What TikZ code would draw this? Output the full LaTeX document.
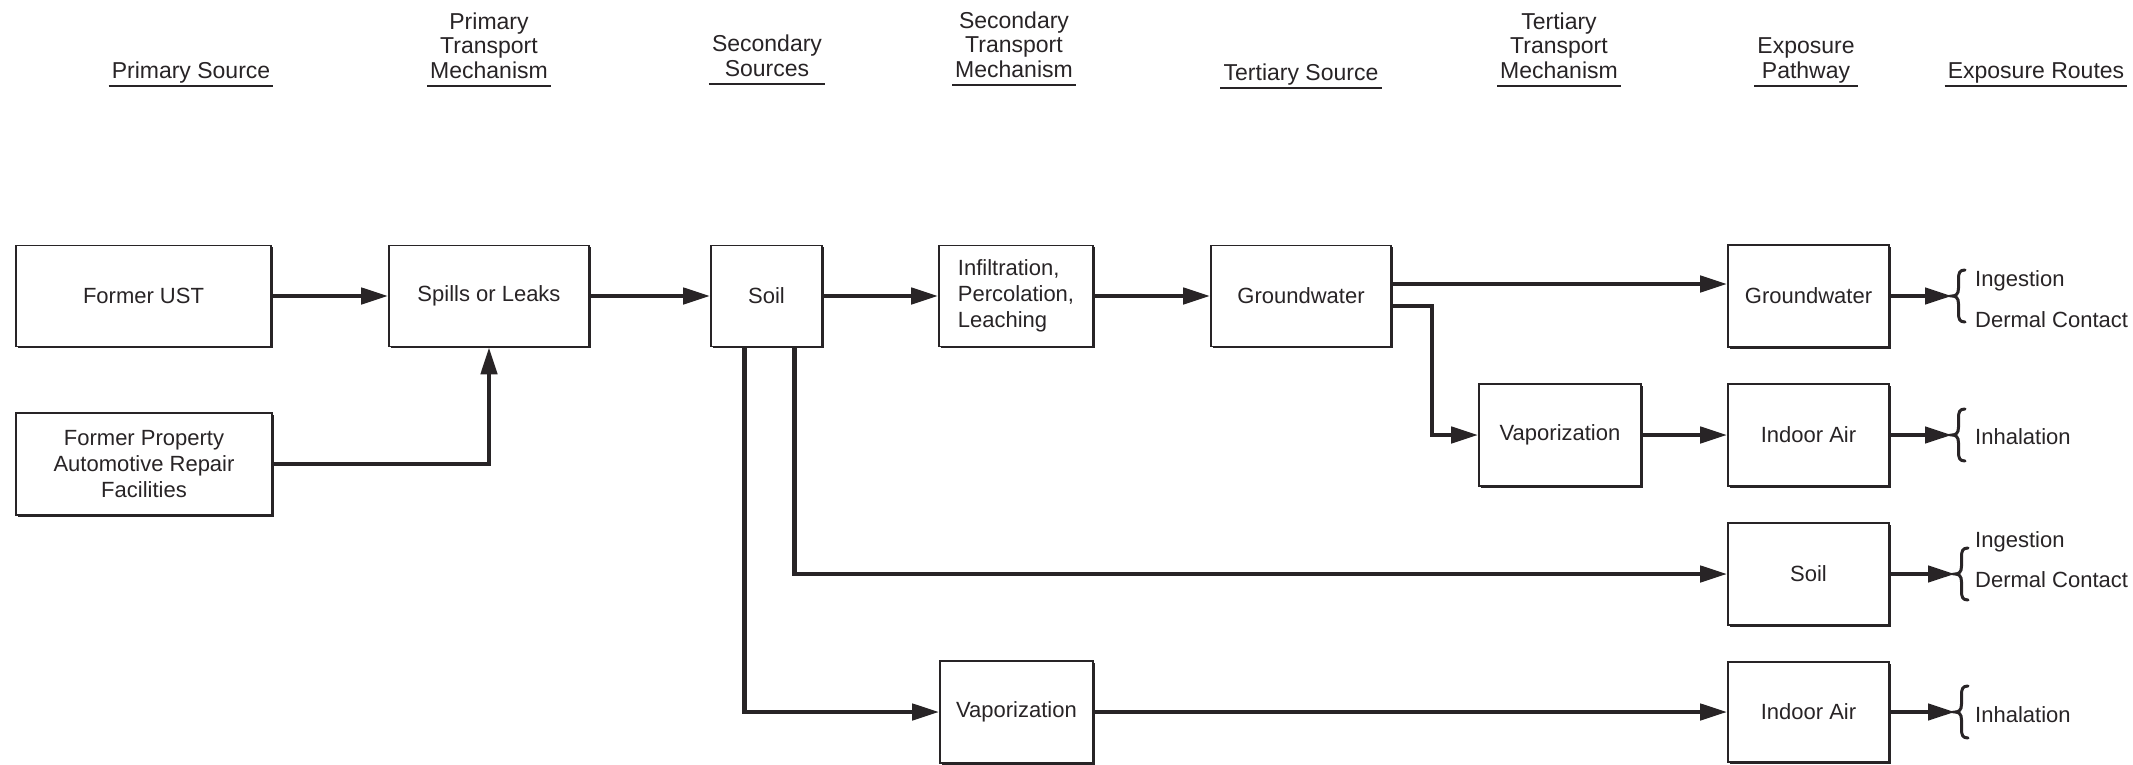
\documentclass[tikz,border=0pt]{standalone}
\usepackage{fontspec}
\setmainfont{Liberation Sans}
\usetikzlibrary{arrows.meta,shadows}
\definecolor{ink}{RGB}{40,36,38}
\begin{document}
\begin{tikzpicture}[x=1pt,y=-1pt,
  every node/.style={text=ink, font=\fontsize{22}{26}\selectfont},
  box/.style={draw=ink, line width=1.6pt, fill=white, inner sep=4pt, align=center,
    minimum height=101pt,
    drop shadow={shadow xshift=1.8pt, shadow yshift=-1.8pt, fill=ink, opacity=1}},
  hdr/.style={align=center, anchor=south, inner xsep=3pt, inner ysep=0pt, font=\fontsize{23}{24.5}\selectfont},
  uline/.style={draw=ink, line width=2.4pt},
  conn/.style={draw=ink, line width=4.4pt, -{Triangle[length=27pt,width=16pt]}},
  brc/.style={draw=ink, line width=3pt, line cap=round},
  route/.style={anchor=west, inner sep=0pt}
]
\useasboundingbox[fill=white] (0,0) rectangle (2133,764);

% headers
\node[hdr] (h1) at (191,86) {Primary Source\strut};
\node[hdr] (h2) at (489,86) {Primary\\Transport\\Mechanism\strut};
\node[hdr] (h3) at (767,84) {Secondary\\Sources\strut};
\node[hdr] (h4) at (1014,85) {Secondary\\Transport\\Mechanism\strut};
\node[hdr] (h5) at (1301,88) {Tertiary Source\strut};
\node[hdr] (h6) at (1559,86) {Tertiary\\Transport\\Mechanism\strut};
\node[hdr] (h7) at (1806,86) {Exposure\\Pathway\strut};
\node[hdr] (h8) at (2036,86) {Exposure Routes\strut};
\foreach \h in {h1,h2,h3,h4,h5,h6,h7,h8}
  \draw[uline] (\h.south west) -- (\h.south east);

% boxes
\node[box, minimum width=255pt] (fust) at (143.5,296) {Former UST};
\node[box, minimum width=256pt, minimum height=102pt] (fprop) at (144,464) {Former Property\\Automotive Repair\\Facilities};
\node[box, minimum width=200pt] (spills) at (489,296) {Spills or Leaks};
\node[box, minimum width=111pt] (soil) at (766.5,296) {Soil};
\node[box, minimum width=154pt, align=left] (infil) at (1016,296) {Infiltration,\\Percolation,\\Leaching};
\node[box, minimum width=180pt] (gw) at (1301,296) {Groundwater};
\node[box, minimum width=162pt, minimum height=102pt] (vap2) at (1560,435) {Vaporization};
\node[box, minimum width=161pt, minimum height=102pt] (egw) at (1808.5,296) {Groundwater};
\node[box, minimum width=161pt, minimum height=102pt] (eia1) at (1808.5,435) {Indoor Air};
\node[box, minimum width=161pt, minimum height=102pt] (esoil) at (1808.5,574) {Soil};
\node[box, minimum width=153pt, minimum height=102pt] (vap1) at (1016.5,712) {Vaporization};
\node[box, minimum width=161pt, minimum height=100pt] (eia2) at (1808.5,712) {Indoor Air};

% brace tips
\coordinate (b1) at (1952,296);
\coordinate (b2) at (1952,435);
\coordinate (b3) at (1955,574);
\coordinate (b4) at (1955,712);
\foreach \b in {b1,b2,b3,b4}
  \draw[brc, shift={(\b)}] (13,-26) .. controls (7.5,-26) and (6.5,-23) .. (6.5,-17) -- (6.5,-8)
    .. controls (6.5,-2) and (4,0) .. (0,0) .. controls (4,0) and (6.5,2) .. (6.5,8)
    -- (6.5,17) .. controls (6.5,23) and (7.5,26) .. (13,26);

% routes
\node[route] (r1) at (1975,281) {Ingestion};
\node[route] (r2) at (1975,320) {Dermal Contact};
\node[route] (r3) at (1975,437) {Inhalation};
\node[route] (r4) at (1975,542) {Ingestion};
\node[route] (r5) at (1975,580) {Dermal Contact};
\node[route] (r6) at (1975,715) {Inhalation};

% connectors
\draw[conn] (fust.east) -- (spills.west);
\draw[conn] (fprop.east) -| (spills.south);
\draw[conn] (spills.east) -- (soil.west);
\draw[conn] (soil.east) -- (infil.west);
\draw[conn] (infil.east) -- (gw.west);
\draw[conn] ([yshift=12pt]gw.east) -- ([yshift=12pt]egw.west);
\draw[conn] ([yshift=-10pt]gw.east) -| ([xshift=-46pt]vap2.west) -- (vap2.west);
\draw[conn] (vap2.east) -- (eia1.west);
\draw[conn] ([xshift=-22pt]soil.south) |- (vap1.west);
\draw[conn] ([xshift=28pt]soil.south) |- (esoil.west);
\draw[conn] (vap1.east) -- (eia2.west);
\draw[conn] (egw.east) -- (b1);
\draw[conn] (eia1.east) -- (b2);
\draw[conn] (esoil.east) -- (b3);
\draw[conn] (eia2.east) -- (b4);
\end{tikzpicture}
\end{document}
